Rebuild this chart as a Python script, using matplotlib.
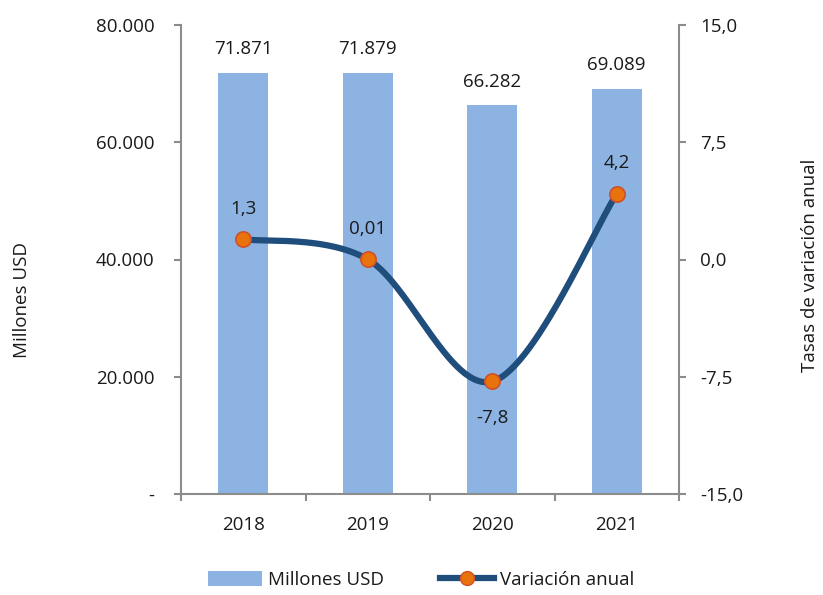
import numpy as np
import matplotlib
matplotlib.use("Agg")
import matplotlib.pyplot as plt
from matplotlib.ticker import FuncFormatter, FixedLocator
from matplotlib.lines import Line2D
from matplotlib.patches import Patch

plt.rcParams['font.family'] = ['Open Sans', 'DejaVu Sans']

years = ["2018", "2019", "2020", "2021"]
millones_usd = [71871, 71879, 66282, 69089]
variacion = [1.3, 0.01, -7.8, 4.2]
left_ticks = [0, 20000, 40000, 60000, 80000]
right_ticks = [-15.0, -7.5, 0.0, 7.5, 15.0]

BAR_C = '#8DB3E2'
LINE_C = '#1F4E7D'
MK_C = '#E8720C'
MK_EDGE = '#D0502A'
SPINE_C = '#8C8C8C'
TXT_C = '#1A1A1A'
FS = 13.5

fig = plt.figure(figsize=(8.23, 5.95), dpi=100)
ax = fig.add_axes([181/823, 1-494/595, (679-181)/823, (494-25)/595])
x = np.arange(len(years))

ax.bar(x, millones_usd, width=0.4, color=BAR_C, zorder=2)
ax.set_xlim(-0.5, len(years)-0.5)
ax.set_ylim(0, 80000)
ax.yaxis.set_major_locator(FixedLocator(left_ticks))
ax.yaxis.set_major_formatter(FuncFormatter(lambda v, p: '-' if v == 0 else f"{int(v):,}".replace(",", ".")))
ax.set_xticks(x)
ax.set_xticklabels(years)
ax.set_xticks(np.arange(-0.5, len(years), 1.0), minor=True)
ax.tick_params(axis='x', which='major', length=0, pad=16, labelsize=FS, labelcolor=TXT_C)
ax.tick_params(axis='x', which='minor', length=5, width=1.5, color=SPINE_C, direction='out')
ax.tick_params(axis='y', length=5, width=1.5, color=SPINE_C, pad=14, labelsize=FS, labelcolor=TXT_C)
for s in ['top', 'right']:
    ax.spines[s].set_visible(False)
for s in ['left', 'bottom']:
    ax.spines[s].set_color(SPINE_C)
    ax.spines[s].set_linewidth(1.5)

for xi, v in zip(x, millones_usd):
    ax.annotate(f"{v:,}".replace(",", "."), (xi, v), xytext=(0, 17), textcoords='offset points',
                ha='center', va='center', fontsize=FS, color=TXT_C)

ax2 = ax.twinx()
ax2.set_ylim(-15, 15)
ax2.yaxis.set_major_locator(FixedLocator(right_ticks))
ax2.yaxis.set_major_formatter(FuncFormatter(lambda v, p: f"{v:.1f}".replace(".", ",")))
ax2.tick_params(axis='y', length=5, width=1.5, color=SPINE_C, pad=10, labelsize=FS, labelcolor=TXT_C)
for s in ['top', 'left', 'bottom']:
    ax2.spines[s].set_visible(False)
ax2.spines['right'].set_color(SPINE_C)
ax2.spines['right'].set_linewidth(1.5)

# smooth curve (Catmull-Rom style Bezier like Excel smoothing)
px = np.array(x, dtype=float)
py = np.array(variacion, dtype=float)
P = np.column_stack([px, py])
Pe = np.vstack([P[0], P, P[-1]])
t = np.linspace(0, 1, 60)[:, None]
curve = []
for i in range(len(P)-1):
    p0, p3 = Pe[i+1], Pe[i+2]
    c1 = p0 + (Pe[i+2] - Pe[i]) / 6.0
    c2 = p3 - (Pe[i+3] - Pe[i+1]) / 6.0
    seg = (1-t)**3*p0 + 3*(1-t)**2*t*c1 + 3*(1-t)*t**2*c2 + t**3*p3
    curve.append(seg)
curve = np.vstack(curve)
ax2.plot(curve[:, 0], curve[:, 1], color=LINE_C, lw=4.5, solid_capstyle='round', zorder=3)
ax2.plot(px, py, linestyle='none', marker='o', ms=11, mfc=MK_C, mec=MK_EDGE, mew=1.2, zorder=4)

for xi, v in zip(px, py):
    off = 22 if v >= 0 else -26
    ax2.annotate(str(v).replace(".", ","), (xi, v), xytext=(0, off), textcoords='offset points',
                 ha='center', va='center', fontsize=FS, color=TXT_C)

fig.text(22/823, 1-300/595, "Millones USD", rotation=90, ha='center', va='center', fontsize=FS, color=TXT_C)
fig.text(810/823, 1-265/595, "Tasas de variación anual", rotation=90, ha='center', va='center', fontsize=FS, color=TXT_C)

handles = [Patch(facecolor=BAR_C, edgecolor='none'),
           Line2D([0], [0], color=LINE_C, lw=4.5, marker='o', ms=10, mfc=MK_C, mec=MK_EDGE)]
fig.legend(handles, ["Millones USD", "Variación anual"], loc='center', bbox_to_anchor=(421/823, 1-580/595),
           ncol=2, frameon=False, fontsize=FS, handlelength=2.9, handletextpad=0.3, columnspacing=3.0,
           handleheight=0.9, labelcolor=TXT_C)

fig.savefig("out.png", dpi=100)
